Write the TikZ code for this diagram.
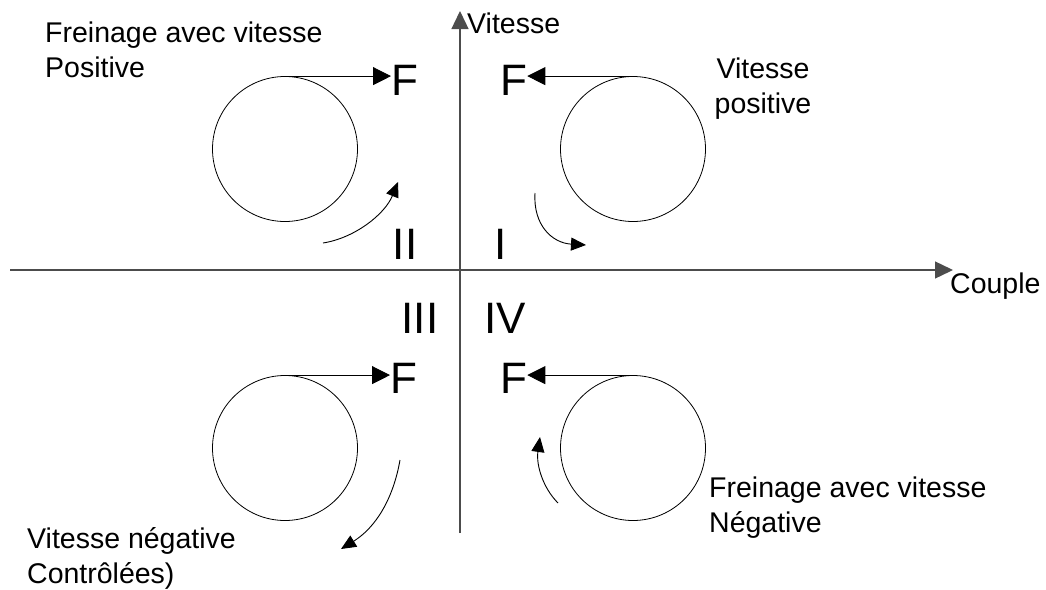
\documentclass[tikz,border=0pt]{standalone}
\usepackage{fontspec}
\setmainfont{Liberation Sans}
\usetikzlibrary{arrows.meta}
\begin{document}
\begin{tikzpicture}[x=1pt,y=-1pt,
  axis/.style={line width=1.3pt, draw=black!70, -{Triangle[length=18pt,width=17pt]}},
  wheel/.style={circle, draw, line width=0.8pt, minimum size=145pt, inner sep=0pt},
  force/.style={line width=0.9pt, -{Triangle[length=18pt,width=18pt]}},
  rot/.style={line width=0.9pt, -{Triangle[length=15pt,width=13pt]}},
  lbl/.style={font=\fontsize{28.5}{34.5}\selectfont, inner sep=0pt},
  big/.style={font=\fontsize{44}{50}\selectfont, inner sep=0pt}]
\useasboundingbox (0,0) rectangle (1046,589);
% axes
\coordinate (xs) at (10,270);
\coordinate (xe) at (953,270);
\coordinate (ys) at (460,533);
\coordinate (ye) at (460,11);
\draw[axis] (xs) -- (xe);
\draw[axis] (ys) -- (ye);
\node[lbl, anchor=base west] (lv) at (467,33) {Vitesse};
\node[lbl, anchor=base west] (lc) at (950,293) {Couple};
% quadrant numerals
\node[big, anchor=base] (q2) at (405,259) {II};
\node[big, anchor=base] (q1) at (501,259) {I};
\node[big, anchor=base] (q3) at (420,333) {III};
\node[big, anchor=base] (q4) at (505,333) {IV};
% wheels
\node[wheel] (w2) at (285,149) {};
\node[wheel] (w1) at (633,149) {};
\node[wheel] (w3) at (285,448) {};
\node[wheel] (w4) at (633,448) {};
% forces
\node[big, anchor=base west] (f2) at (391,95) {F};
\node[big, anchor=base west] (f1) at (500,95) {F};
\node[big, anchor=base west] (f3) at (390,393) {F};
\node[big, anchor=base west] (f4) at (500,393) {F};
\draw[force] (w2.north) -- (w2.north -| f2.west);
\draw[force] (w1.north) -- (w1.north -| f1.east);
\draw[force] (w3.north) -- (w3.north -| f3.west);
\draw[force] (w4.north) -- (w4.north -| f4.east);
% rotation arrows
\coordinate (r2s) at (323,243); \coordinate (r2e) at (398,182);
\coordinate (r1s) at (535,193); \coordinate (r1e) at (586,245);
\coordinate (r3s) at (400,460); \coordinate (r3e) at (341,549);
\coordinate (r4s) at (558,503); \coordinate (r4e) at (540,437);
\draw[rot] (r2s) .. controls (355,238) and (385,214) .. (r2e);
\draw[rot] (r1s) .. controls (533,225) and (552,243) .. (r1e);
\draw[rot] (r3s) .. controls (393,500) and (375,528) .. (r3e);
\draw[rot] (r4s) .. controls (543,488) and (536,465) .. (r4e);
% labels
\node[lbl, anchor=base west, align=left] (t2) at (45,77) {Freinage avec vitesse\\Positive};
\node[lbl, anchor=base, align=center] (t1) at (763,113) {Vitesse\\positive};
\node[lbl, anchor=base west, align=left] (t3) at (27,583) {Vitesse négative\\Contrôlées)};
\node[lbl, anchor=base west, align=left] (t4) at (709,532) {Freinage avec vitesse\\Négative};
\end{tikzpicture}
\end{document}
